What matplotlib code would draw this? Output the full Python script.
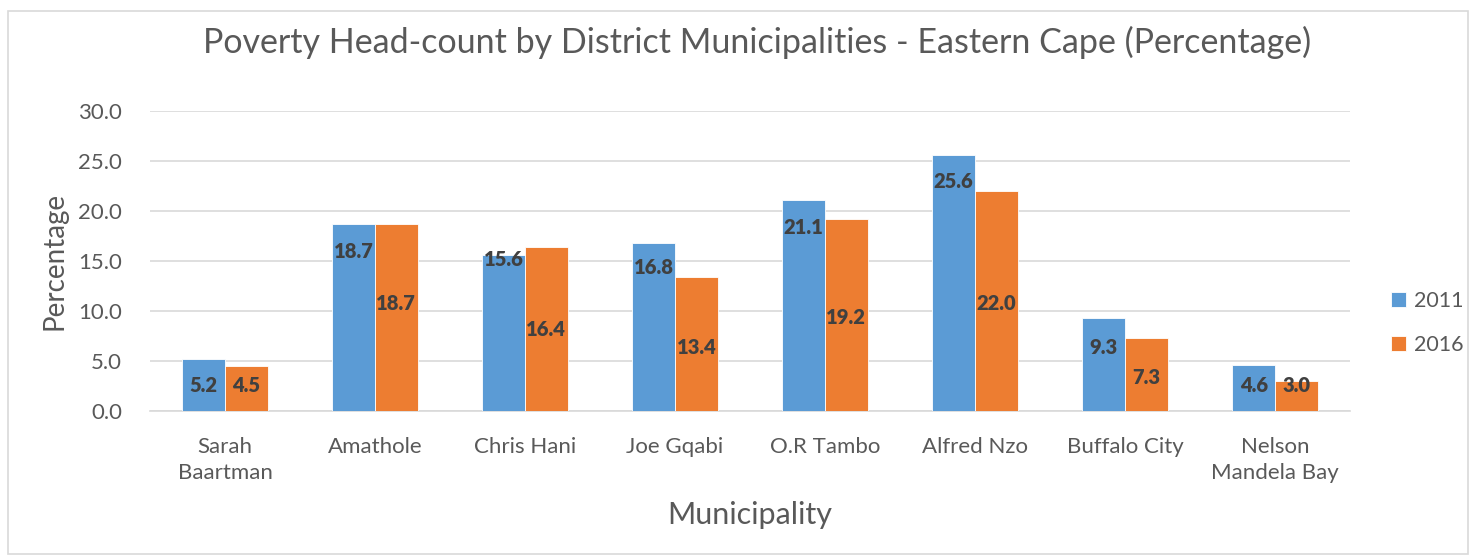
import matplotlib
matplotlib.use('Agg')
import matplotlib.pyplot as plt
from matplotlib.patches import Rectangle
import numpy as np

municipalities = ['Sarah\nBaartman', 'Amathole', 'Chris Hani', 'Joe Gqabi',
                  'O.R Tambo', 'Alfred Nzo', 'Buffalo City', 'Nelson\nMandela Bay']
years = ['2011', '2016']
pct_2011 = [5.2, 18.7, 15.6, 16.8, 21.1, 25.6, 9.3, 4.6]
pct_2016 = [4.5, 18.7, 16.4, 13.4, 19.2, 22.0, 7.3, 3.0]

# where the data labels sit (in data units), as placed in the original
lab_y_2011 = [2.6, 16.0, 15.1, 14.3, 18.3, 22.9, 6.4, 2.6]
lab_y_2016 = [2.6, 10.8, 8.1, 6.4, 9.3, 10.8, 3.4, 2.6]

BLUE = '#5B9BD5'
ORANGE = '#ED7D31'
TXT = '#595959'

plt.rcParams['font.family'] = ['Lato', 'DejaVu Sans']

fig = plt.figure(figsize=(14.76, 5.58), dpi=100)
fig.patches.append(Rectangle((8/1476, 4/558), 1460/1476, 543/558, transform=fig.transFigure,
                             fill=False, edgecolor='#D9D9D9', lw=1.2))
ax = fig.add_axes([150/1476, 147/558, 1200/1476, 300/558])

x = np.arange(len(municipalities))
w = 0.285
ax.bar(x - w/2, pct_2011, w, color=BLUE, edgecolor='white', lw=0.6, label=years[0], zorder=3)
ax.bar(x + w/2, pct_2016, w, color=ORANGE, edgecolor='white', lw=0.6, label=years[1], zorder=3)

for i in range(len(x)):
    ax.text(x[i] - w/2, lab_y_2011[i], f'{pct_2011[i]:.1f}', ha='center', va='center',
            fontsize=14.5, fontweight='heavy', color='#404040', zorder=4)
    ax.text(x[i] + w/2, lab_y_2016[i], f'{pct_2016[i]:.1f}', ha='center', va='center',
            fontsize=14.5, fontweight='heavy', color='#404040', zorder=4)

ax.set_xlim(-0.5, len(x) - 0.5)
ax.set_ylim(0, 30)
ax.set_yticks(np.arange(0, 31, 5))
ax.set_yticklabels([f'{v:.1f}' for v in np.arange(0, 31, 5)])
ax.set_xticks(x)
ax.set_xticklabels(municipalities, linespacing=1.35)
ax.tick_params(axis='both', length=0, labelsize=16, colors=TXT)
ax.tick_params(axis='y', pad=20)
ax.tick_params(axis='x', pad=19)
ax.grid(axis='y', color='#D9D9D9', lw=1.2, zorder=0)
for s in ['top', 'right', 'left']:
    ax.spines[s].set_visible(False)
ax.spines['bottom'].set_color('#D9D9D9')
ax.spines['bottom'].set_linewidth(1.2)

ax.set_ylabel('Percentage', fontsize=20, color=TXT, labelpad=8)
fig.text(750/1476, 1 - 515/558, 'Municipality', ha='center', va='center', fontsize=22, color=TXT)
fig.text(757/1476, 1 - 42/558, 'Poverty Head-count by District Municipalities - Eastern Cape (Percentage)',
         ha='center', va='center', fontsize=24.5, color=TXT)

ax.legend(loc='center left', bbox_to_anchor=(1391/1476, 1 - 323/558), bbox_transform=fig.transFigure,
          frameon=False, fontsize=15.5, labelcolor=TXT, handlelength=0.7, handleheight=0.7,
          handletextpad=0.35, labelspacing=1.1, borderpad=0, borderaxespad=0)

plt.savefig('out.png', dpi=100)
